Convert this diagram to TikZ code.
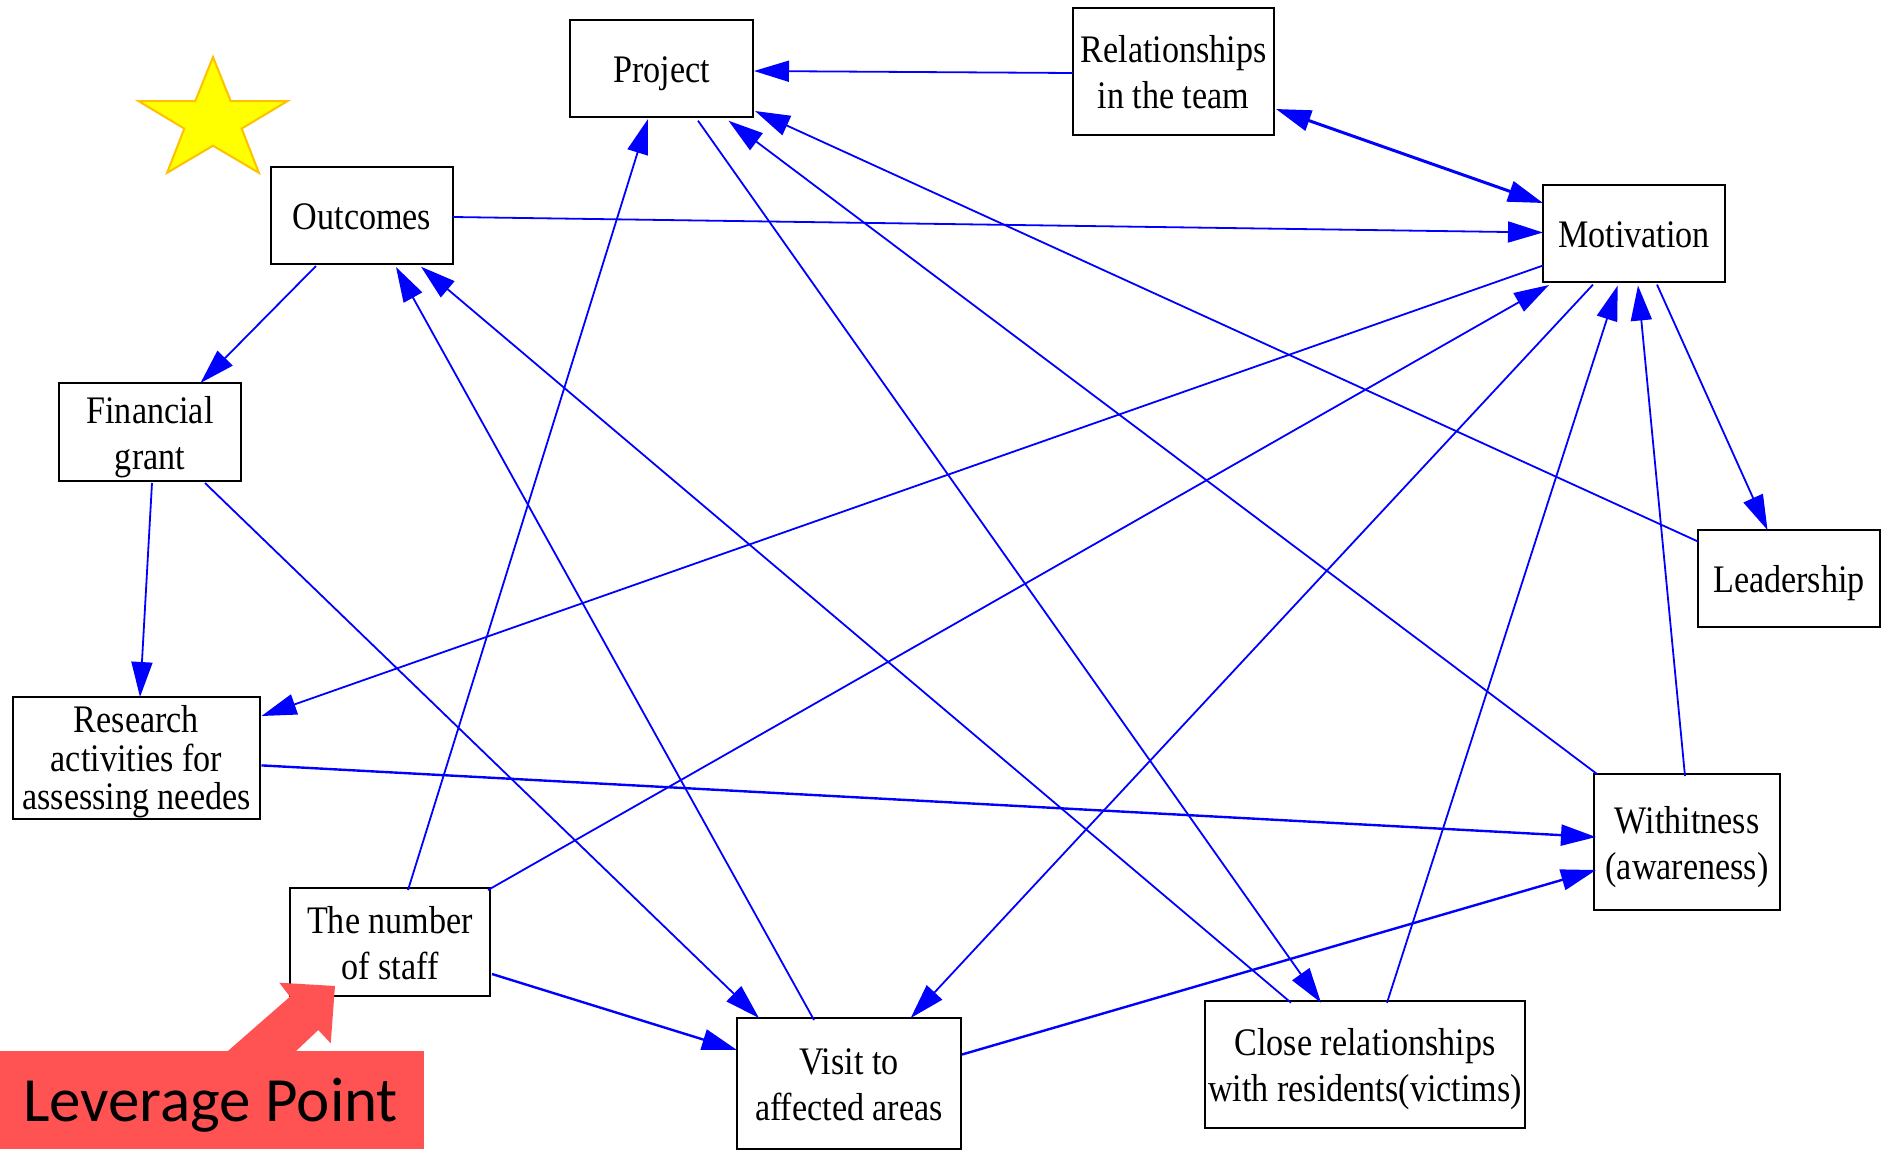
\documentclass[tikz,border=0pt]{standalone}
\usepackage{fontspec}
\usetikzlibrary{arrows.meta}
\newfontfamily\nf[FakeStretch=0.875]{Liberation Serif}
\newfontfamily\calib{Carlito}
\definecolor{edgeblue}{RGB}{0,0,255}
\definecolor{starfill}{RGB}{255,255,0}
\definecolor{starline}{RGB}{255,192,0}
\definecolor{levred}{RGB}{255,83,83}
\newcommand{\lowtext}[1]{\raisebox{-5pt}[\height][\depth]{\begin{tabular}{@{}c@{}}#1\end{tabular}}}
\begin{document}
\begin{tikzpicture}[x=1pt,y=-1pt,
  box/.style={draw=black, line width=2pt, rectangle, inner sep=0pt, outer sep=0pt,
    align=center, font={\nf\fontsize{39}{46}\selectfont}},
  edge/.style={draw=edgeblue, line width=1.8pt, -{Triangle[length=35pt,width=21pt]}},
  bedge/.style={edge, line width=2.4pt},
  dedge/.style={draw=edgeblue, line width=3pt, {Triangle[length=35pt,width=21pt]}-{Triangle[length=35pt,width=21pt]}}
]
\useasboundingbox (0,0) rectangle (1883,1152);
% star
\draw[fill=starfill, draw=starline, line width=2pt, line join=miter]
  (213,57) -- (230.7,101) -- (287.3,101.2) -- (241.7,128.6) -- (258.9,172.8)
  -- (213,145.7) -- (167.1,172.8) -- (184.3,128.6) -- (138.7,101.2) -- (195.3,101) -- cycle;
% nodes
\node[box, minimum width=183pt, minimum height=97pt] (proj) at (661.5,68.5) {\lowtext{Project}};
\node[box, minimum width=201pt, minimum height=127pt] (rel) at (1173.5,71.5) {\lowtext{Relationships\\in the team}};
\node[box, minimum width=182pt, minimum height=97pt] (mot) at (1634,233.5) {\lowtext{Motivation}};
\node[box, minimum width=182pt, minimum height=97pt] (lead) at (1789,578.5) {\lowtext{Leadership}};
\node[box, minimum width=182pt, minimum height=97pt] (out) at (362,215.5) {\lowtext{Outcomes}};
\node[box, minimum width=182pt, minimum height=98pt] (fin) at (150,432) {\lowtext{Financial\\grant}};
\node[box, minimum width=247pt, minimum height=122pt, font={\nf\fontsize{39}{38}\selectfont}] (res) at (136.5,758) {\lowtext{Research\\activities for\\assessing needes}};
\node[box, minimum width=200pt, minimum height=108pt] (staff) at (390,942) {\lowtext{The number\\of staff}};
\node[box, minimum width=224pt, minimum height=131pt] (visit) at (849,1083.5) {\lowtext{Visit to\\affected areas}};
\node[box, minimum width=320pt, minimum height=127pt] (close) at (1365,1064.5) {\lowtext{Close relationships\\with residents(victims)}};
\node[box, minimum width=186pt, minimum height=136pt] (with) at (1687,842) {\lowtext{Withitness\\(awareness)}};
% edges
\draw[edge] ([yshift=-1.5pt]rel.west) -- ([xshift=1pt,yshift=-2.5pt]proj.east);
\draw[dedge] ([xshift=2pt,yshift=-37.5pt]rel.east) -- ([yshift=30.5pt]mot.west);
\draw[edge] ([yshift=-1.5pt]out.east) -- ([yshift=1pt]mot.west);
\draw[edge] ([xshift=-46pt,yshift=-2pt]out.south) -- ([xshift=50.5pt]fin.north);
\draw[edge] ([xshift=2pt,yshift=-2pt]fin.south) -- ([xshift=3.5pt]res.north);
\draw[edge] ([xshift=55pt,yshift=-2pt]fin.south) -- ([xshift=-90pt]visit.north);
\draw[edge] ([xshift=18pt,yshift=-2pt]staff.north) -- ([xshift=-13.5pt,yshift=-2pt]proj.south);
\draw[edge] ([xshift=-2pt,yshift=-2pt]staff.north east) -- ([xshift=6pt,yshift=-3pt]mot.south west);
\draw[bedge] ([yshift=-32pt,xshift=2pt]staff.east) -- ([yshift=33.5pt]visit.west);
\draw[edge] ([yshift=-32pt]mot.west) -- ([xshift=1.5pt,yshift=42pt]res.east);
\draw[edge] ([xshift=-41pt,yshift=-2.6pt]mot.south) -- ([xshift=61.7pt]visit.north);
\draw[edge] ([xshift=23pt,yshift=-2.6pt]mot.south) -- ([xshift=-21.5pt]lead.north);
\draw[edge] ([yshift=37pt]lead.west) -- ([xshift=2pt,yshift=-42.5pt]proj.east);
\draw[edge] ([xshift=3pt]with.north west) -- ([xshift=67pt,yshift=-3.7pt]proj.south);
\draw[edge] ([xshift=-2pt,yshift=-2pt]with.north) -- ([xshift=4pt,yshift=-3.5pt]mot.south);
\draw[edge] ([xshift=22pt,yshift=-1.7pt]close.north) -- ([xshift=-16.3pt,yshift=-3.5pt]mot.south);
\draw[edge] ([xshift=-74pt,yshift=-1.7pt]close.north) -- ([xshift=59pt,yshift=-2.7pt]out.south);
\draw[edge] ([xshift=36.5pt,yshift=-3.7pt]proj.south) -- ([xshift=-44pt,yshift=-1.7pt]close.north);
\draw[bedge] ([xshift=1.5pt,yshift=-7.4pt]res.east) -- ([xshift=2pt,yshift=5pt]with.west);
\draw[bedge] ([xshift=1pt,yshift=29pt]visit.east) -- ([xshift=2pt,yshift=-28pt]with.west);
\draw[edge] ([xshift=-35pt,yshift=-2pt]visit.north) -- ([xshift=34pt,yshift=-3pt]out.south);
% leverage point callout
\fill[levred] (226.7,1052) -- (290,996.7) -- (279.3,982.7) -- (335,986) -- (330.7,1043.3) -- (318.3,1030) -- (295,1052) -- cycle;
\fill[levred] (0,1051) rectangle (424,1149);
\node[anchor=base, inner sep=0pt, font={\calib\fontsize{63}{70}\selectfont}] (lev) at (210.5,1121.6) {Leverage Point};
\end{tikzpicture}
\end{document}
